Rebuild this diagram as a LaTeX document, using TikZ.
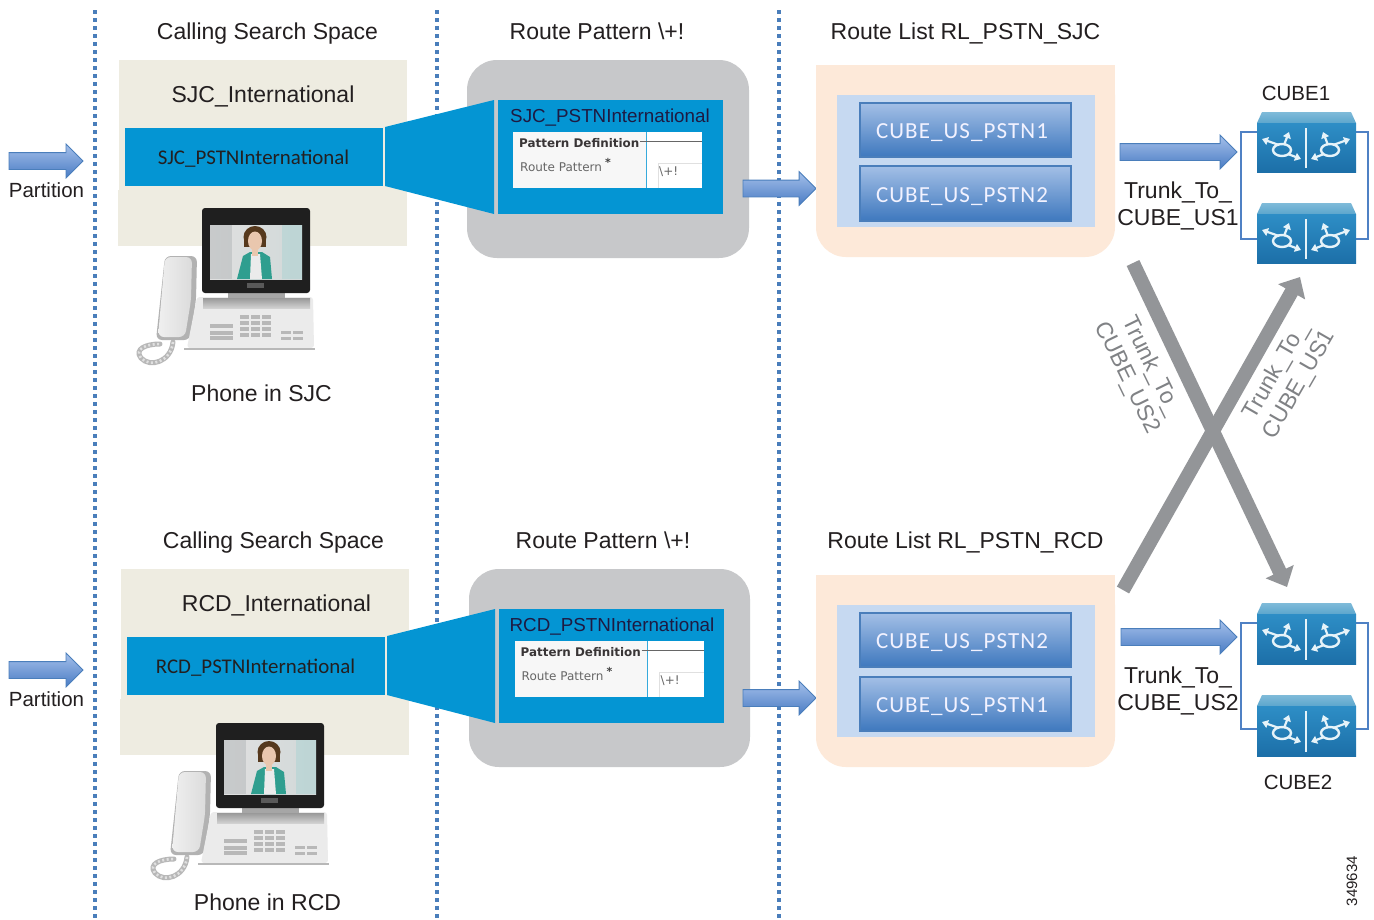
\documentclass[tikz,border=0pt]{standalone}
\usepackage{fontspec}
\setmainfont{Liberation Sans}
\newfontfamily\calfont{Carlito}
\newfontfamily\calspaced[LetterSpace=4.7]{Carlito}
\newfontfamily\djv{DejaVu Sans}
\usetikzlibrary{shapes.arrows,arrows.meta,calc}
\definecolor{dotblue}{HTML}{4A7EBB}
\definecolor{tan}{HTML}{EEECE1}
\definecolor{cyanblue}{HTML}{0495D3}
\definecolor{greybox}{HTML}{C7C8CA}
\definecolor{peach}{HTML}{FDE9D9}
\definecolor{paleblue}{HTML}{C6D9F1}
\definecolor{ink}{HTML}{231F20}
\definecolor{xgrey}{HTML}{939598}
\definecolor{xtext}{HTML}{808285}
\definecolor{linkblue}{HTML}{4F81C4}
\definecolor{btntop}{HTML}{A3BFE6}
\definecolor{btnbot}{HTML}{3E78BE}
\definecolor{arrtop}{HTML}{A5C0EA}
\definecolor{arrbot}{HTML}{4A7CC4}
\definecolor{captop}{HTML}{7FBBD9}
\definecolor{capbot}{HTML}{5DA6CD}
\definecolor{fronttop}{HTML}{2E8EC6}
\definecolor{frontbot}{HTML}{1C6FA8}
\definecolor{glyph}{HTML}{E6F3F9}
\definecolor{skin}{HTML}{E9C7AE}
\definecolor{jacket}{HTML}{2F9E8F}
\tikzset{
  lbl/.style={font=\fontsize{23}{27}\selectfont,text=ink,inner sep=0pt,align=center},
  smalllbl/.style={font=\fontsize{20.5}{25}\selectfont,text=ink,inner sep=0pt},
  dotline/.style={dotblue,line width=3.5pt,dash pattern=on 4pt off 4pt},
  flat/.style={fill=#1,draw=none,outer sep=0pt},
  btn/.style={draw=dotblue,line width=1.2pt,top color=btntop,bottom color=btnbot,outer sep=0pt},
  blockarr/.style={single arrow,draw=dotblue,line width=0.8pt,top color=arrtop,bottom color=arrbot,
    inner sep=8pt,single arrow head extend=8.5pt,minimum width=33pt,outer sep=0pt,anchor=tail},
  xline/.style={xgrey,line width=14pt,-{Triangle[length=17pt,width=30pt]}},
  xlbl/.style={font=\fontsize{23}{27}\selectfont,text=xtext,inner sep=0pt,align=center},
  btntext/.style={font=\calspaced\fontsize{23}{27}\selectfont,text=white!95!blue,inner sep=0pt},
  bandtext/.style={font=\calfont\fontsize{20.9}{24}\selectfont,text=ink,inner sep=0pt},
  formtitle/.style={font=\fontsize{18.8}{23}\selectfont,text=ink!85!blue,inner sep=0pt},
  formbold/.style={font=\djv\bfseries\fontsize{11.9}{14}\selectfont,text=ink!90,inner sep=0pt},
  formtext/.style={font=\djv\fontsize{12}{14}\selectfont,text=black!60,inner sep=0pt},
  link/.style={linkblue,line width=1.2pt},
}
\newcommand\bx[7]{%
  \pgfmathsetmacro\bxw{#5-#3}\pgfmathsetmacro\bxh{#6-#4}%
  \pgfmathsetmacro\bxc{(#3+#5)/2}\pgfmathsetmacro\bxd{(#4+#6)/2}%
  \node[#2,minimum width=\bxw pt,minimum height=\bxh pt,inner sep=0pt] (#1) at (\bxc,\bxd) {#7};}
\newcommand\arr[4]{%
  \pgfmathsetmacro\bxw{#3-#2}%
  \node[blockarr,minimum height=\bxw pt] (#1) at (#2,#4) {};}
\newcommand\phone{%
  % cord
  \draw[black!28,line width=5pt,line cap=round] (173,342) .. controls (171,362) and (150,368) .. (141,358)
     .. controls (134,349) and (146,344) .. (160,344);
  \draw[black!12,line width=2.6pt,dash pattern=on 2pt off 2.5pt] (173,342) .. controls (171,362) and (150,368) .. (141,358)
     .. controls (134,349) and (146,344) .. (160,344);
  % handset
  \fill[black!30,rounded corners=6pt] (165,256) -- (197,256) -- (196,300) -- (190,340) -- (156,340) -- cycle;
  \shade[left color=black!6,right color=black!14,rounded corners=6pt] (165,257) -- (192,257) -- (191,300) -- (185,337) -- (158,337) -- cycle;
  % base
  \fill[black!8,rounded corners=3pt] (197,297) -- (313,297) -- (314,348) -- (187,348) -- cycle;
  \fill[black!28] (184,347.5) rectangle (315,350);
  \shade[top color=black!40,bottom color=black!18] (203,298) rectangle (310,308);
  \foreach \y in {315,321,327,333}{\foreach \x in {240,251,262}{\fill[black!28] (\x,\y) rectangle ++(9,3.5);}}
  \foreach \y in {324,331,336}{\fill[black!28] (210,\y) rectangle ++(23,3.5);}
  \foreach \y in {331,337}{\foreach \x in {281,293}{\fill[black!28] (\x,\y) rectangle ++(10,3);}}
  % stand
  \fill[black!35] (228,290) rectangle (285,298);
  % screen
  \fill[black!88,rounded corners=3pt] (202,208) rectangle (310,293);
  \shade[left color=black!12,right color=cyan!16!black!18] (210,225) rectangle (302,279);
  \fill[white!70!cyan!20!gray,opacity=.35] (210,225) rectangle (232,279);
  \fill[teal!35!white,opacity=.45] (282,225) rectangle (302,279);
  \fill[black!55!brown] (255,237) ellipse (11.5 and 11);
  \fill[black!55!brown] (244,237) rectangle (266,247);
  \fill[jacket] (237,279) -- (243,256) -- (250,252) -- (262,252) -- (270,257) -- (272,279) -- cycle;
  \fill[white!92!black] (250,279) -- (251,254) -- (260,254) -- (262,279) -- cycle;
  \fill[skin] (255,241) ellipse (7 and 9.5);
  \fill[skin] (252,248) rectangle (258,256);
  \fill[black!65] (247,283) rectangle (264,288);
}
\newcommand\routerglyph{%
  \draw[glyph,line width=2.4pt] (25,38) ellipse (9 and 6);
  \draw[glyph,line width=2.2pt,-{Triangle[length=6pt,width=8pt]}] (22,33) -- (5,27);
  \draw[glyph,line width=2.2pt,-{Triangle[length=6pt,width=8pt]}] (27,33) -- (32,20);
  \draw[glyph,line width=2.2pt,-{Triangle[length=6pt,width=8pt]}] (31,42) -- (44,47);
}
\newcommand\router[3]{%
  \begin{scope}[shift={(#1,#2)}]
    \shade[top color=captop,bottom color=capbot] (5,0) -- (94,0) -- (99,11) -- (0,11) -- cycle;
    \shade[top color=fronttop,bottom color=frontbot] (0,11) rectangle (99,#3);
    \draw[glyph,line width=1.6pt] (49,16) -- (49,#3-4);
    \routerglyph
    \begin{scope}[xshift=98pt,xscale=-1]\routerglyph\end{scope}
  \end{scope}}
\newcommand\form[1]{%
  \begin{scope}[shift={#1}]
    \fill[white!97!black] (513,132) rectangle (646,188);
    \fill[white] (646,132) rectangle (702,188);
    \draw[cyanblue!80!white,line width=.8pt] (646,132) -- (646,188);
    \draw[black!60,line width=1pt] (640,141) -- (702,141);
    \draw[black!12,line width=.7pt] (658,188) -- (658,163) -- (702,163);
    \node[formbold,anchor=west] at (519,143) {Pattern Definition};
    \node[formtext,anchor=west] at (520,167) {Route Pattern};
    \node[font=\djv\bfseries\fontsize{11}{12}\selectfont,text=black!75,inner sep=0pt] at (608,162) {*};
    \node[formtext,anchor=west] at (659,172) {\textbackslash+!};
  \end{scope}}
\begin{document}
\begin{tikzpicture}[x=1pt,y=-1pt]
\useasboundingbox (0,0) rectangle (1374,919);
\fill[white] (0,0) rectangle (1374,919);
\coordinate (d1t) at (95,10); \coordinate (d1b) at (95,919);
\coordinate (d2t) at (437,10); \coordinate (d2b) at (437,919);
\coordinate (d3t) at (779,10); \coordinate (d3b) at (779,919);
\draw[dotline] (d1t) -- (d1b);
\draw[dotline] (d2t) -- (d2b);
\draw[dotline] (d3t) -- (d3b);

% ---------- top row
\node[lbl] (csstitle1) at (267.5,33.5) {Calling Search Space};
\node[lbl] (rptitle1) at (597,31) {Route Pattern \textbackslash+!};
\node[lbl] (rltitle1) at (965.5,33) {Route List RL\_PSTN\_SJC};
\bx{csstan1}{flat=tan}{119}{60}{407}{192}{}
\bx{csstan1b}{flat=tan}{118}{190}{407}{246}{}
\node[lbl] (cssname1) at (263,96) {SJC\_International};
\bx{band1}{flat=cyanblue}{125}{128}{383}{186}{}
\node[bandtext] (bandtxt1) at (253.5,159) {SJC\_PSTNInternational};
\begin{scope}\phone\end{scope}
\node[lbl] (phonelbl1) at (261.5,393) {Phone in SJC};
\arr{part1}{9}{83}{161}
\node[smalllbl] (partlbl1) at (46.5,190) {Partition};

\bx{rpgrey1}{flat=greybox,rounded corners=30pt}{467}{60}{749}{258}{}
\bx{rpblue1}{flat=cyanblue}{498}{100}{723}{214}{}
\fill[cyanblue] (385,127) -- (494,100) -- (494,214) -- (385,186) -- cycle;
\node[formtitle] (rptxt1) at (610,117.5) {SJC\_PSTNInternational};
\form{(0,0)}
\arr{rparr1}{743}{816}{188.5}

\bx{rlpeach1}{flat=peach,rounded corners=30pt}{816}{65}{1115}{257}{}
\bx{rlpeachtop1}{flat=peach}{816}{65}{1115}{120}{}
\bx{rlpale1}{flat=paleblue}{837}{95}{1095}{227}{}
\bx{btn11}{btn}{860}{103}{1071}{157}{}
\bx{btn12}{btn}{860}{166}{1071}{221}{}
\node[btntext] (btn11t) at (962,132.5) {CUBE\_US\_PSTN1};
\node[btntext] (btn12t) at (962,196.5) {CUBE\_US\_PSTN2};

\arr{trunk1}{1120}{1237}{152}
\node[lbl] (trunklbl1) at (1178,206) {Trunk\_To\_\\CUBE\_US1};
\node[smalllbl] (cube1lbl) at (1296,93) {CUBE1};
\coordinate (b1a) at (1258,132); \coordinate (b1b) at (1258,239);
\coordinate (b1c) at (1355,132); \coordinate (b1d) at (1355,239);
\coordinate (b1l) at (1241,132); \coordinate (b1r) at (1368,132);
\coordinate (b1ll) at (1241,239); \coordinate (b1rr) at (1368,239);
\draw[link] (b1a) -- (b1l) -- (b1ll) -- (b1b);
\draw[link] (b1c) -- (b1r) -- (b1rr) -- (b1d);
\router{1257}{112}{60}
\router{1257}{203}{60}

% ---------- bottom row
\node[lbl] (csstitle2) at (273.5,542.5) {Calling Search Space};
\node[lbl] (rptitle2) at (603,540) {Route Pattern \textbackslash+!};
\node[lbl] (rltitle2) at (965.5,542) {Route List RL\_PSTN\_RCD};
\bx{csstan2}{flat=tan}{121}{569}{409}{701}{}
\bx{csstan2b}{flat=tan}{120}{699}{409}{755}{}
\node[lbl] (cssname2) at (276.5,605) {RCD\_International};
\bx{band2}{flat=cyanblue}{127}{637}{385}{695}{}
\node[bandtext] (bandtxt2) at (255.5,668) {RCD\_PSTNInternational};
\begin{scope}[shift={(14,515)}]\phone\end{scope}
\node[lbl] (phonelbl2) at (267.5,902) {Phone in RCD};
\arr{part2}{9}{83}{670}
\node[smalllbl] (partlbl2) at (46.5,699) {Partition};

\bx{rpgrey2}{flat=greybox,rounded corners=30pt}{469}{569}{750}{767}{}
\bx{rpblue2}{flat=cyanblue}{499}{609}{724}{723}{}
\fill[cyanblue] (387,636) -- (495,609) -- (495,723) -- (387,695) -- cycle;
\node[formtitle] (rptxt2) at (612,626.5) {RCD\_PSTNInternational};
\form{(1.5,509)}
\arr{rparr2}{743}{816}{698}

\bx{rlpeach2}{flat=peach,rounded corners=30pt}{816}{575}{1115}{767}{}
\bx{rlpeachtop2}{flat=peach}{816}{575}{1115}{630}{}
\bx{rlpale2}{flat=paleblue}{837}{605}{1095}{737}{}
\bx{btn21}{btn}{860}{613}{1071}{667}{}
\bx{btn22}{btn}{860}{677}{1071}{731}{}
\node[btntext] (btn21t) at (962,642.5) {CUBE\_US\_PSTN2};
\node[btntext] (btn22t) at (962,706.5) {CUBE\_US\_PSTN1};

\arr{trunk2}{1121}{1237}{637}
\node[lbl] (trunklbl2) at (1178,691) {Trunk\_To\_\\CUBE\_US2};
\node[smalllbl] (cube2lbl) at (1298,782) {CUBE2};
\coordinate (b2a) at (1258,623); \coordinate (b2b) at (1258,729);
\coordinate (b2c) at (1355,623); \coordinate (b2d) at (1355,729);
\coordinate (b2l) at (1241,623); \coordinate (b2r) at (1368,623);
\coordinate (b2ll) at (1241,729); \coordinate (b2rr) at (1368,729);
\draw[link] (b2a) -- (b2l) -- (b2ll) -- (b2b);
\draw[link] (b2c) -- (b2r) -- (b2rr) -- (b2d);
\router{1257}{603}{61}
\router{1257}{695}{61}

% ---------- crossing trunks
\coordinate (x1s) at (1133,263); \coordinate (x1e) at (1287,587);
\coordinate (x2s) at (1123,590); \coordinate (x2e) at (1300,277);
\draw[xline] (x1s) -- (x1e);
\draw[xline] (x2s) -- (x2e);
\node[xlbl,rotate=-64] (xlbl1) at (1139,372) {Trunk\_To\_\\CUBE\_US2};
\node[xlbl,rotate=60] (xlbl2) at (1288,378) {Trunk\_To\_\\CUBE\_US1};

\node[font=\fontsize{15}{18}\selectfont,text=ink,inner sep=0pt,rotate=90] (docnum) at (1352,881) {349634};
\end{tikzpicture}
\end{document}
